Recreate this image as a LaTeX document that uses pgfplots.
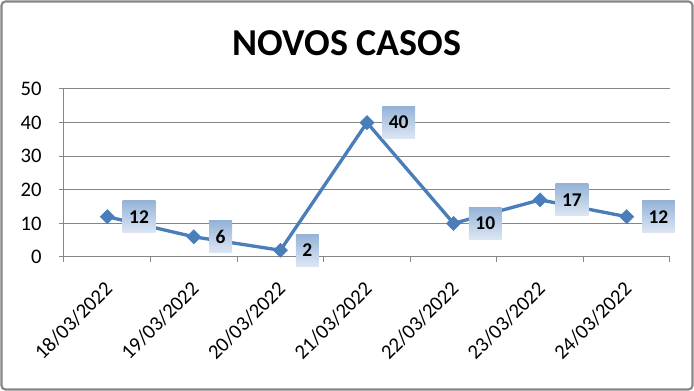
\documentclass[border=0pt]{standalone}
\usepackage{fontspec}
\setmainfont{Carlito}
\usepackage{pgfplots}
\pgfplotsset{compat=1.18}
\definecolor{linec}{RGB}{74,126,187}
\definecolor{gridc}{RGB}{134,134,134}
\definecolor{boxtop}{RGB}{149,179,215}
\definecolor{boxbot}{RGB}{221,231,243}
\begin{document}
\begin{tikzpicture}[x=0.75pt,y=0.75pt]
\useasboundingbox (0,0) rectangle (694,391);
\draw[gridc, line width=1.6pt, rounded corners=3pt] (1.5,1.5) rectangle (692.5,389.5);
\node[font=\fontsize{28.5}{34}\selectfont\bfseries] at (347,348) {NOVOS CASOS};
\begin{axis}[
  at={(48pt,100.5pt)}, anchor=south west,
  scale only axis, width=454.5pt, height=126pt,
  xmin=-0.5, xmax=6.5, ymin=0, ymax=50,
  ytick={0,10,...,50},
  xtick={0,...,6},
  xticklabels={18/03/2022,19/03/2022,20/03/2022,21/03/2022,22/03/2022,23/03/2022,24/03/2022},
  minor xtick={-0.5,0.5,...,6.5},
  major x tick style={draw=none},
  tick align=outside,
  major tick length=3.75pt, minor tick length=3.75pt,
  tick style={gridc, line width=0.75pt},
  axis x line*=bottom, axis y line*=left,
  axis line style={gridc, line width=0.75pt, -},
  ymajorgrids, grid style={gridc, line width=0.75pt},
  /pgf/number format/assume math mode=true,
  tick label style={font=\fontsize{15.5}{18}\selectfont},
  yticklabel style={anchor=east, xshift=-9.5pt},
  xticklabel style={xshift=-3pt, yshift=-8.6pt, rotate=45, anchor=north east},
  clip=false,
  nodes near coords,
  nodes near coords style={font=\fontsize{14.6}{17}\selectfont\bfseries,
    anchor=west, xshift=11.25pt, shade, top color=boxtop, bottom color=boxbot,
    inner xsep=4.9pt, inner ysep=0pt, minimum height=24pt, text=black},
]
\addplot[color=linec, line width=2.5pt, mark=square*, mark size=3.7pt,
  mark options={rotate=45, fill=linec, draw=linec, line width=0.5pt}]
  coordinates {(0,12) (1,6) (2,2) (3,40) (4,10) (5,17) (6,12)};
\end{axis}
\end{tikzpicture}
\end{document}
